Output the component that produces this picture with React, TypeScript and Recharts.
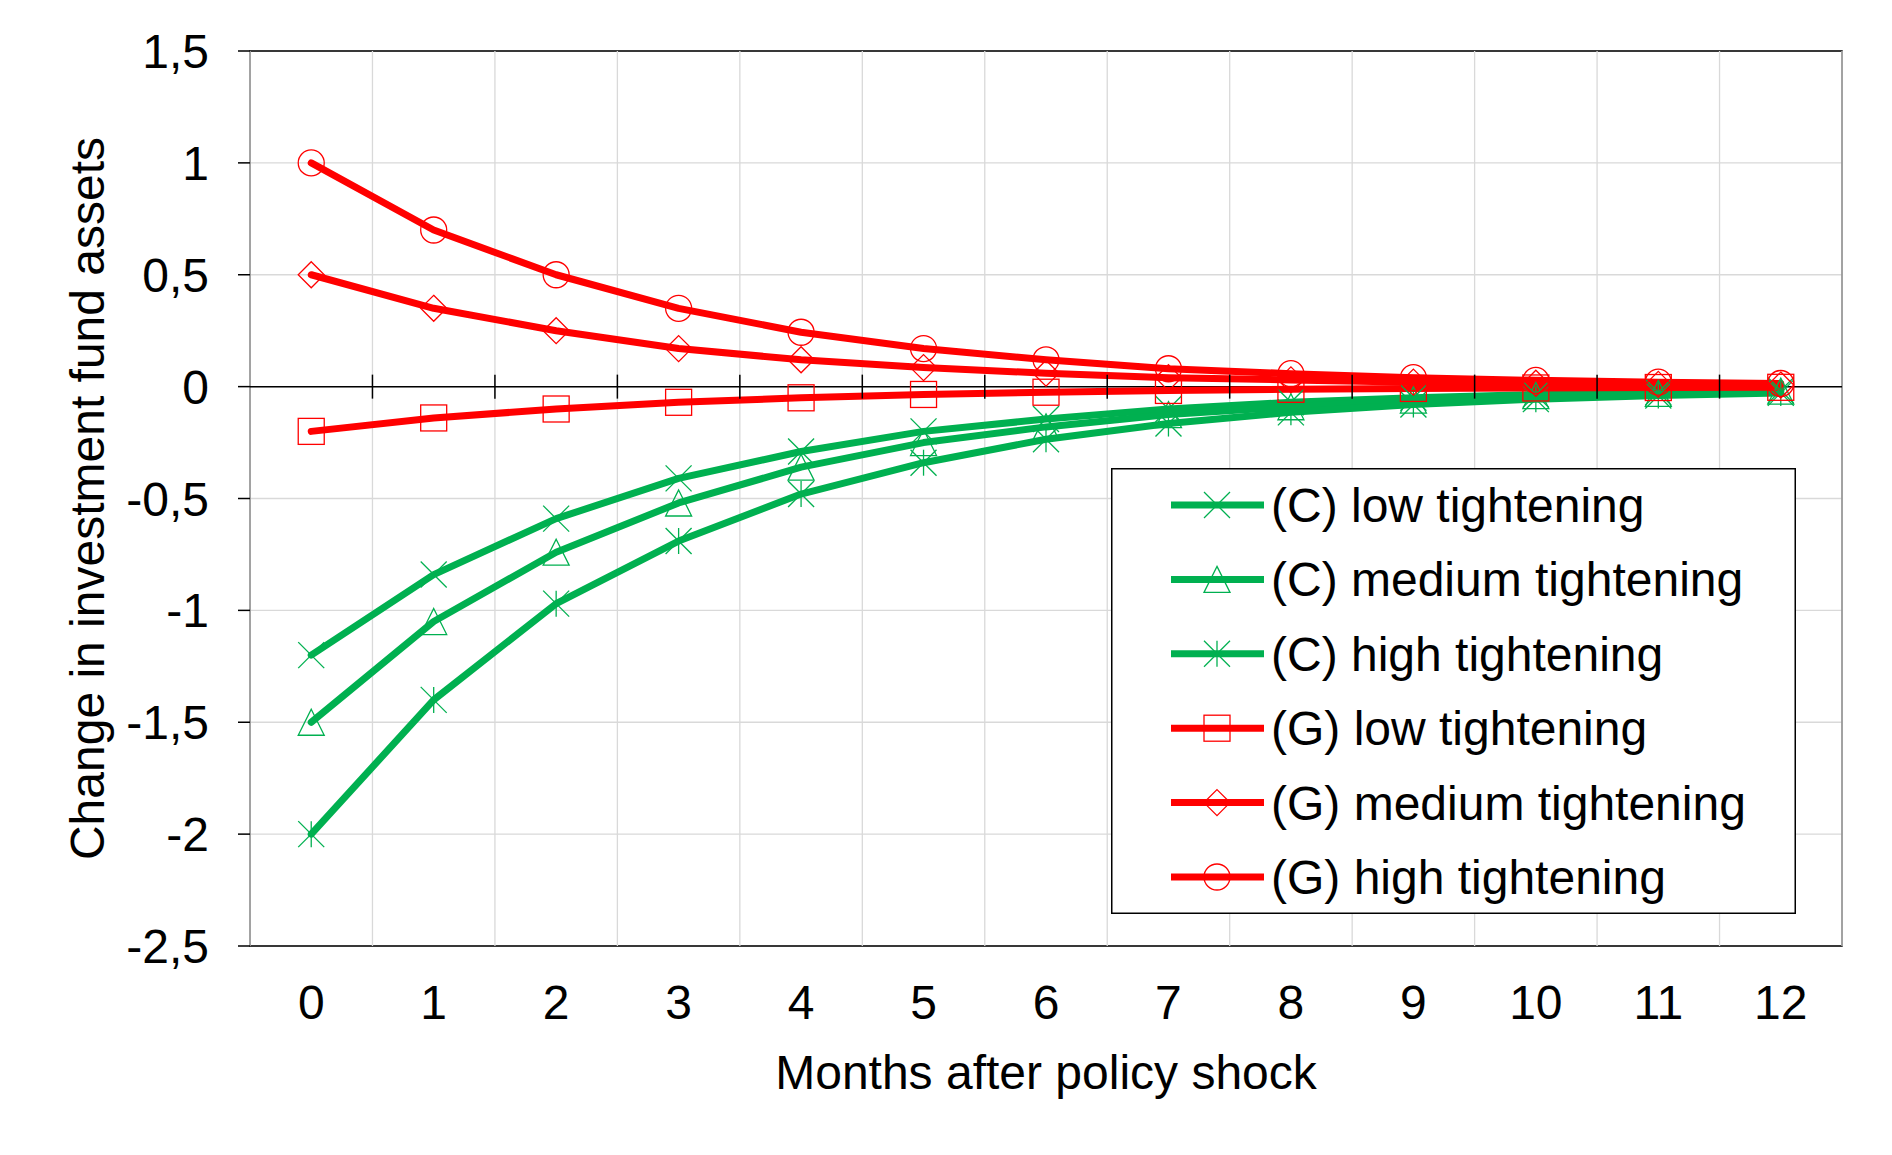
import React from "react";
import {
  CartesianGrid,
  Line,
  LineChart,
  ReferenceArea,
  ReferenceDot,
  ReferenceLine,
  XAxis,
  YAxis,
} from "recharts";

// months after the shock (categories)
const months = [0, 1, 2, 3, 4, 5, 6, 7, 8, 9, 10, 11, 12];

// (C) series
const cLow = [-1.2, -0.84, -0.59, -0.41, -0.29, -0.2, -0.145, -0.1, -0.07, -0.05, -0.035, -0.025, -0.017];
const cMedium = [-1.5, -1.05, -0.74, -0.52, -0.36, -0.25, -0.18, -0.125, -0.09, -0.06, -0.04, -0.03, -0.02];
const cHigh = [-2.0, -1.4, -0.97, -0.69, -0.48, -0.34, -0.235, -0.165, -0.115, -0.08, -0.056, -0.04, -0.028];

// (G) series
const gLow = [-0.2, -0.14, -0.1, -0.07, -0.05, -0.035, -0.025, -0.017, -0.012, -0.008, -0.006, -0.004, -0.003];
const gMedium = [0.5, 0.35, 0.25, 0.17, 0.12, 0.085, 0.06, 0.04, 0.03, 0.02, 0.015, 0.01, 0.007];
const gHigh = [1.0, 0.7, 0.5, 0.35, 0.243, 0.17, 0.12, 0.08, 0.058, 0.04, 0.028, 0.02, 0.014];

const yTicks = [-2.5, -2, -1.5, -1, -0.5, 0, 0.5, 1, 1.5];

const GREEN = "#00B050";
const RED = "#FF0000";
const FONT = "'Liberation Sans', Arial, sans-serif";

type Marker = "x" | "triangle" | "star" | "square" | "diamond" | "circle";

const series: { key: string; name: string; color: string; marker: Marker }[] = [
  { key: "cLow", name: "(C) low tightening", color: GREEN, marker: "x" },
  { key: "cMedium", name: "(C) medium tightening", color: GREEN, marker: "triangle" },
  { key: "cHigh", name: "(C) high tightening", color: GREEN, marker: "star" },
  { key: "gLow", name: "(G) low tightening", color: RED, marker: "square" },
  { key: "gMedium", name: "(G) medium tightening", color: RED, marker: "diamond" },
  { key: "gHigh", name: "(G) high tightening", color: RED, marker: "circle" },
];

const data = months.map((m, i) => ({
  month: m,
  cLow: cLow[i],
  cMedium: cMedium[i],
  cHigh: cHigh[i],
  gLow: gLow[i],
  gMedium: gMedium[i],
  gHigh: gHigh[i],
}));

// boundaries between month categories (for grid and zero-line ticks)
const edges = months.slice(1).map((m) => m - 0.5);
const allEdges = [months[0] - 0.5, ...edges, months[months.length - 1] + 0.5];

const R = 13;
const LINE_W = 7;

function MarkerShape({ cx, cy, type, color }: { cx: number; cy: number; type: Marker; color: string }) {
  const common = { stroke: color, strokeWidth: 1.3, fill: "none" };
  switch (type) {
    case "x":
      return (
        <g {...common}>
          <line x1={cx - R} y1={cy - R} x2={cx + R} y2={cy + R} />
          <line x1={cx - R} y1={cy + R} x2={cx + R} y2={cy - R} />
        </g>
      );
    case "star":
      return (
        <g {...common}>
          <line x1={cx - R} y1={cy - R} x2={cx + R} y2={cy + R} />
          <line x1={cx - R} y1={cy + R} x2={cx + R} y2={cy - R} />
          <line x1={cx} y1={cy - R} x2={cx} y2={cy + R} />
        </g>
      );
    case "triangle":
      return <polygon {...common} points={`${cx},${cy - R} ${cx + R},${cy + R} ${cx - R},${cy + R}`} />;
    case "square":
      return <rect {...common} x={cx - R} y={cy - R} width={2 * R} height={2 * R} />;
    case "diamond":
      return <polygon {...common} points={`${cx},${cy - R} ${cx + R},${cy} ${cx},${cy + R} ${cx - R},${cy}`} />;
    default:
      return <circle {...common} cx={cx} cy={cy} r={R} />;
  }
}

function ChartLegend() {
  const rowH = 74.4;
  return (
    <svg width={685} height={446} style={{ display: "block" }}>
      <rect x={0.75} y={0.75} width={683.5} height={444.5} fill="#fff" stroke="#000" strokeWidth={1.5} />
      {series.map((s, i) => {
        const cy = 37 + i * rowH;
        return (
          <g key={s.key}>
            <line x1={60} x2={153} y1={cy} y2={cy} stroke={s.color} strokeWidth={LINE_W} />
            <MarkerShape cx={106} cy={cy} type={s.marker} color={s.color} />
            <text x={160} y={cy + 17} fontFamily={FONT} fontSize={48} fill="#000">
              {s.name}
            </text>
          </g>
        );
      })}
    </svg>
  );
}

function XTick({ x, y, payload }: any) {
  return (
    <text x={x} y={y + 73} textAnchor="middle" fontFamily={FONT} fontSize={48} fill="#000">
      {payload.value}
    </text>
  );
}

function YTick({ x, y, payload }: any) {
  return (
    <text x={x} y={y + 17} textAnchor="end" fontFamily={FONT} fontSize={48} fill="#000">
      {String(payload.value).replace(".", ",")}
    </text>
  );
}

function XTitle({ viewBox }: any) {
  return (
    <text x={viewBox.x + viewBox.width / 2} y={viewBox.y + 143} textAnchor="middle" fontFamily={FONT} fontSize={48} fill="#000">
      Months after policy shock
    </text>
  );
}

function YTitle({ viewBox }: any) {
  const cx = 87;
  const cy = viewBox.y + viewBox.height / 2;
  return (
    <text
      x={cx}
      y={cy}
      transform={`rotate(-90 ${cx} ${cy})`}
      dy={17}
      textAnchor="middle"
      fontFamily={FONT}
      fontSize={48}
      fill="#000"
    >
      Change in investment fund assets
    </text>
  );
}

function ZeroTick({ cx, cy }: any) {
  return <line x1={cx} x2={cx} y1={cy - 12} y2={cy + 12} stroke="#000" strokeWidth={1.5} />;
}

export default function App() {
  return (
    <div style={{ position: "absolute", left: 0, top: 0, width: 1892, height: 1155, background: "#fff" }}>
      <LineChart width={1892} height={1155} data={data} margin={{ top: 51, right: 50, bottom: 0, left: 0 }}>
        <CartesianGrid vertical={false} stroke="#D9D9D9" strokeWidth={1.3} />
        {allEdges.map((e) => (
          <ReferenceLine key={`g${e}`} x={e} stroke="#D9D9D9" strokeWidth={1.3} />
        ))}
        <XAxis
          dataKey="month"
          type="number"
          domain={[months[0] - 0.5, months[months.length - 1] + 0.5]}
          ticks={months}
          allowDataOverflow
          height={209}
          axisLine={false}
          tickLine={false}
          tickSize={0}
          tickMargin={0}
          tick={<XTick />}
          label={<XTitle />}
        />
        <YAxis
          type="number"
          domain={[yTicks[0], yTicks[yTicks.length - 1]]}
          ticks={yTicks}
          width={250}
          axisLine={false}
          tickLine={{ stroke: "#000", strokeWidth: 1.5 }}
          tickSize={12}
          tickMargin={29}
          tick={<YTick />}
          label={<YTitle />}
        />
        <ReferenceArea
          x1={months[0] - 0.5}
          x2={months[months.length - 1] + 0.5}
          y1={yTicks[0]}
          y2={yTicks[yTicks.length - 1]}
          fill="none"
          fillOpacity={0}
          stroke="#000"
          strokeWidth={1.5}
        />
        <ReferenceLine y={0} stroke="#000" strokeWidth={1.5} />
        {edges.map((e) => (
          <ReferenceDot key={`t${e}`} x={e} y={0} r={0} shape={<ZeroTick />} />
        ))}
        {series.map((s) => (
          <Line
            key={s.key}
            dataKey={s.key}
            name={s.name}
            stroke={s.color}
            strokeWidth={LINE_W}
            strokeLinejoin="round"
            strokeLinecap="round"
            isAnimationActive={false}
            dot={(p: any) => <MarkerShape key={`${s.key}-${p.index}`} cx={p.cx} cy={p.cy} type={s.marker} color={s.color} />}
            activeDot={false}
          />
        ))}
      </LineChart>
      <div style={{ position: "absolute", left: 1111, top: 468 }}>
        <ChartLegend />
      </div>
    </div>
  );
}
